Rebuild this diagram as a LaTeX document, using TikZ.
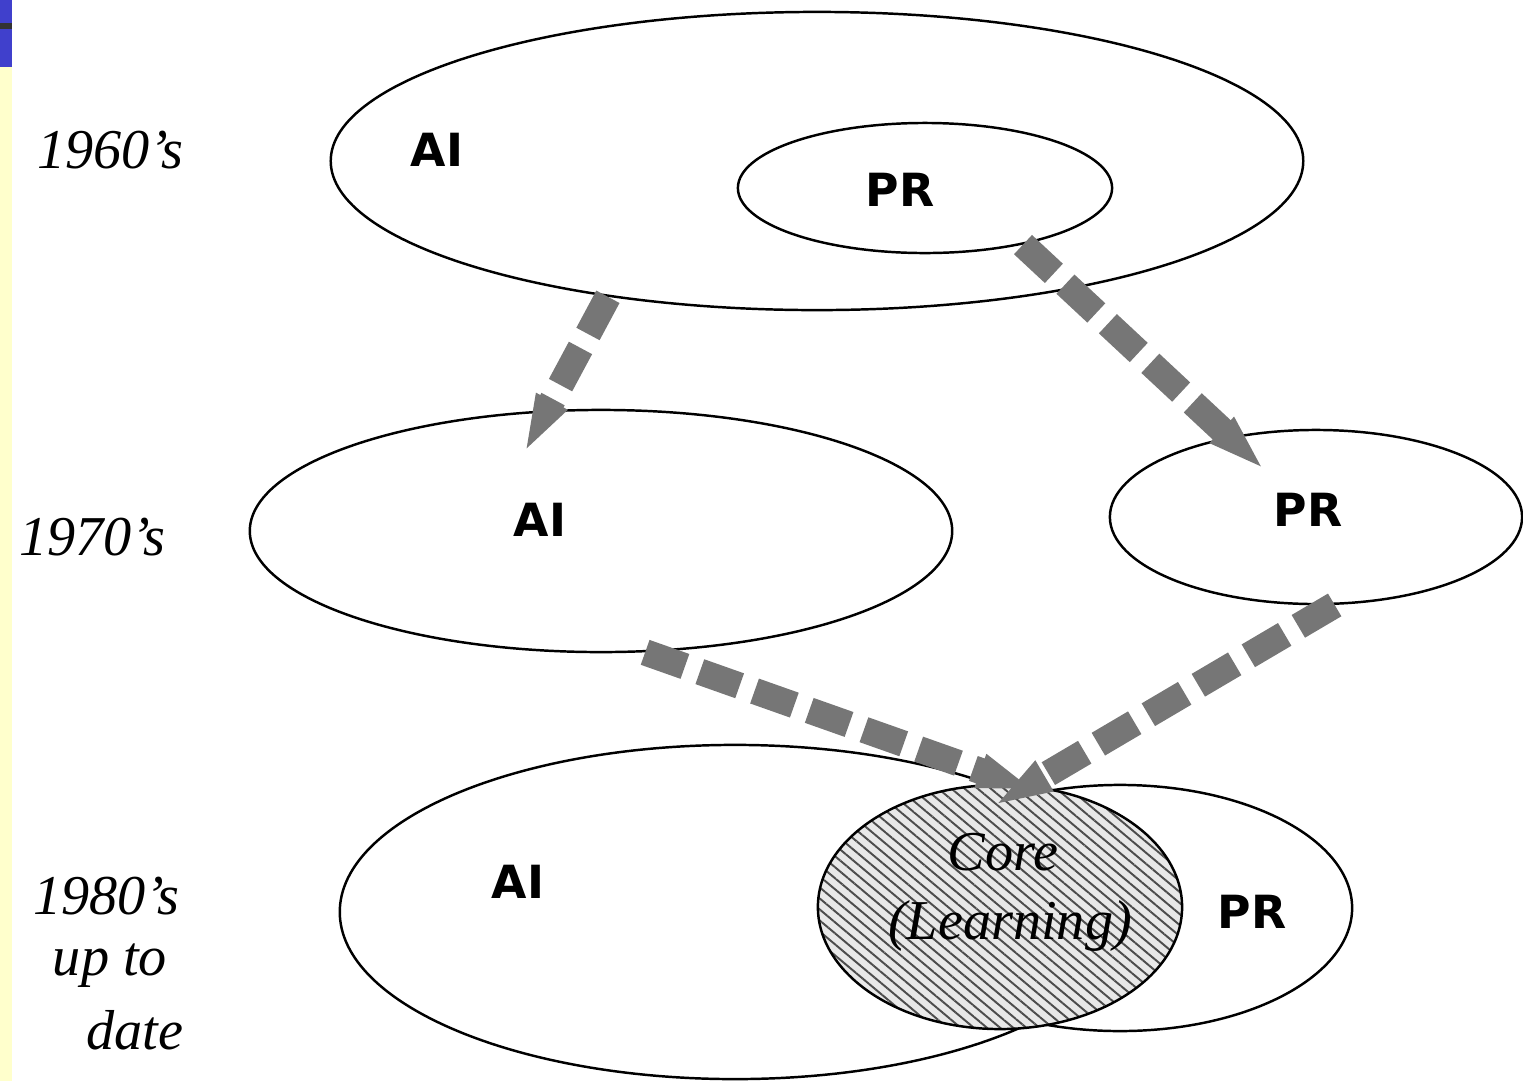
\documentclass[tikz,border=0pt]{standalone}
\usepackage{fontspec}
\setmainfont{Liberation Serif}
\newfontfamily\labelfont{DejaVu Sans}
\usetikzlibrary{shapes.geometric,arrows.meta,patterns.meta}
\definecolor{dashgray}{RGB}{118,118,118}
\definecolor{stripyellow}{RGB}{255,255,204}
\definecolor{barblue}{RGB}{64,64,204}
\begin{document}
\begin{tikzpicture}[x=0.01cm, y=-0.01cm,
  field/.style={draw, ellipse, line width=0.7pt, inner sep=0pt},
  tag/.style={font=\labelfont\bfseries\fontsize{13}{15}\selectfont},
  era/.style={font=\itshape\fontsize{16}{19}\selectfont},
  flow/.style={draw=dashgray, line width=7.5pt, dash pattern=on 12pt off 4.5pt, -{Triangle[length=18pt,width=8.5pt]}}]
\useasboundingbox (0,0) rectangle (1523,1081);
% side strip
\fill[stripyellow] (0,0) rectangle (12,1081);
\fill[barblue] (0,0) rectangle (12,67);
\fill[black!80] (0,23) rectangle (12,29);

% decades
\node[era] (y60) at (110,150) {1960's};
\node[era] (y70) at (92,537) {1970's};
\node[era] (y80) at (106,896) {1980's};
\node[era] (y80b) at (110,966) {up to};
\node[era] (y80c) at (135,1030) {date};

% fields
\node[field, minimum width=9.72cm, minimum height=2.98cm] (ai60) at (817,161) {};
\node[field, minimum width=3.74cm, minimum height=1.30cm] (pr60) at (925,188) {};
\node[field, minimum width=7.02cm, minimum height=2.42cm] (ai70) at (601,531) {};
\node[field, minimum width=4.12cm, minimum height=1.74cm] (pr70) at (1316,517) {};
\node[field, minimum width=7.90cm, minimum height=3.34cm] (ai80) at (735,912) {};
\node[field, minimum width=4.64cm, minimum height=2.46cm] (pr80) at (1120,908) {};
\node[field, minimum width=3.64cm, minimum height=2.44cm, preaction={fill=gray!18},
  pattern={Lines[angle=-40,distance=2.4pt,line width=0.55pt]}, pattern color=black!70] (core) at (1000,907) {};

\node[tag] (ai60t) at (437,150) {AI};
\node[tag] (pr60t) at (900,190) {PR};
\node[tag] (ai70t) at (540,520) {AI};
\node[tag] (pr70t) at (1308,510) {PR};
\node[tag] (ai80t) at (518,882) {AI};
\node[tag] (pr80t) at (1252,912) {PR};
\node[era] (coret) at (1003,852) {Core};
\node[era] (learnt) at (1010,926) {(Learning)};

% where the arrows end
\coordinate (in70ai) at (522,457);
\coordinate (in70pr) at (1268,473);
\coordinate (incorea) at (1040,792);
\coordinate (incoreb) at (990,808);

\draw[flow] (ai60.213) -- (in70ai);
\draw[flow] (pr60.-30) -- (in70pr);
\draw[flow] (ai70.-70) -- (incorea);
\draw[flow] (pr70.-78) -- (incoreb);
\end{tikzpicture}
\end{document}
